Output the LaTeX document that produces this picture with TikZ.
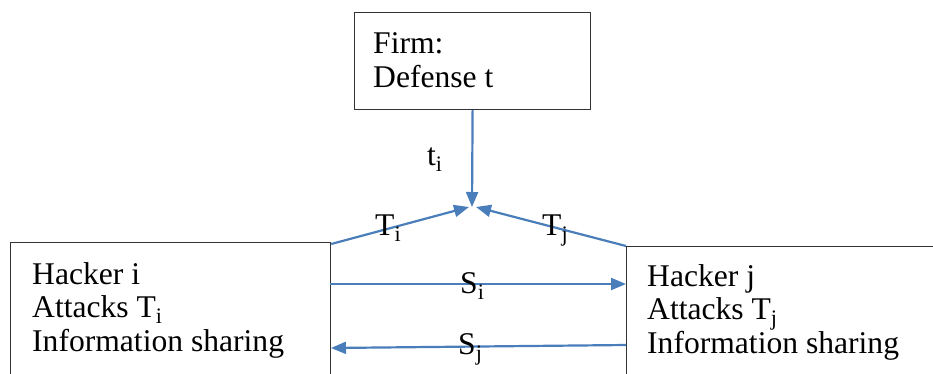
\documentclass[tikz,border=0pt]{standalone}
\usepackage{fontspec}
\setmainfont{Liberation Serif}
\usetikzlibrary{positioning,arrows.meta}

\definecolor{linkblue}{RGB}{74,126,187}

\begin{document}
\begin{tikzpicture}[x=1pt, y=-1pt,
    box/.style = {draw=black!80, line width=1.2pt, anchor=north west, inner sep=0pt},
    txt/.style = {anchor=base west, inner sep=0pt, font=\fontsize{31.6}{33.5}\selectfont},
    boxtxt/.style = {txt, align=left},
    link/.style = {draw=linkblue, line width=2.2pt, -{Triangle[length=15pt,width=12pt]}}]
    \useasboundingbox (0,0) rectangle (933,373);
    % boxes
    \node[box, minimum width=236pt, minimum height=97pt] (firm) at (354,12) {};
    \node[box, minimum width=320pt, minimum height=150pt] (hi) at (10,242) {};
    \node[box, minimum width=320pt, minimum height=150pt] (hj) at (626,246) {};
    % box texts (base = last line)
    \node[boxtxt] (firmtxt) at (373,87) {Firm:\\Defense t};
    \node[boxtxt] (hitxt) at (32,351) {Hacker i\\Attacks T\textsubscript{i}\\Information sharing};
    \node[boxtxt] (hjtxt) at (647,353) {Hacker j\\Attacks T\textsubscript{j}\\Information sharing};
    % meeting points
    \coordinate (meet) at (472,207);
    \coordinate (meetL) at (469,207);
    \coordinate (meetR) at (476,207);
    \coordinate (siA) at (330,284);
    \coordinate (sjA) at (626,345);
    \coordinate (sjB) at (331,348);
    % connectors
    \draw[link] (firm.south) -- (meet);
    \draw[link] ([yshift=-2pt]hi.north east) -- (meetL);
    \draw[link] (hj.north west) -- (meetR);
    \draw[link] (siA) -- (hj.north west |- siA);
    \draw[link] (sjA) -- (sjB);
    % labels
    \node[txt] (ti) at (427,165) {t\textsubscript{i}};
    \node[txt] (Ti) at (375,235) {T\textsubscript{i}};
    \node[txt] (Tj) at (542,235) {T\textsubscript{j}};
    \node[txt] (Si) at (460,293) {S\textsubscript{i}};
    \node[txt] (Sj) at (458,354) {S\textsubscript{j}};
\end{tikzpicture}
\end{document}
